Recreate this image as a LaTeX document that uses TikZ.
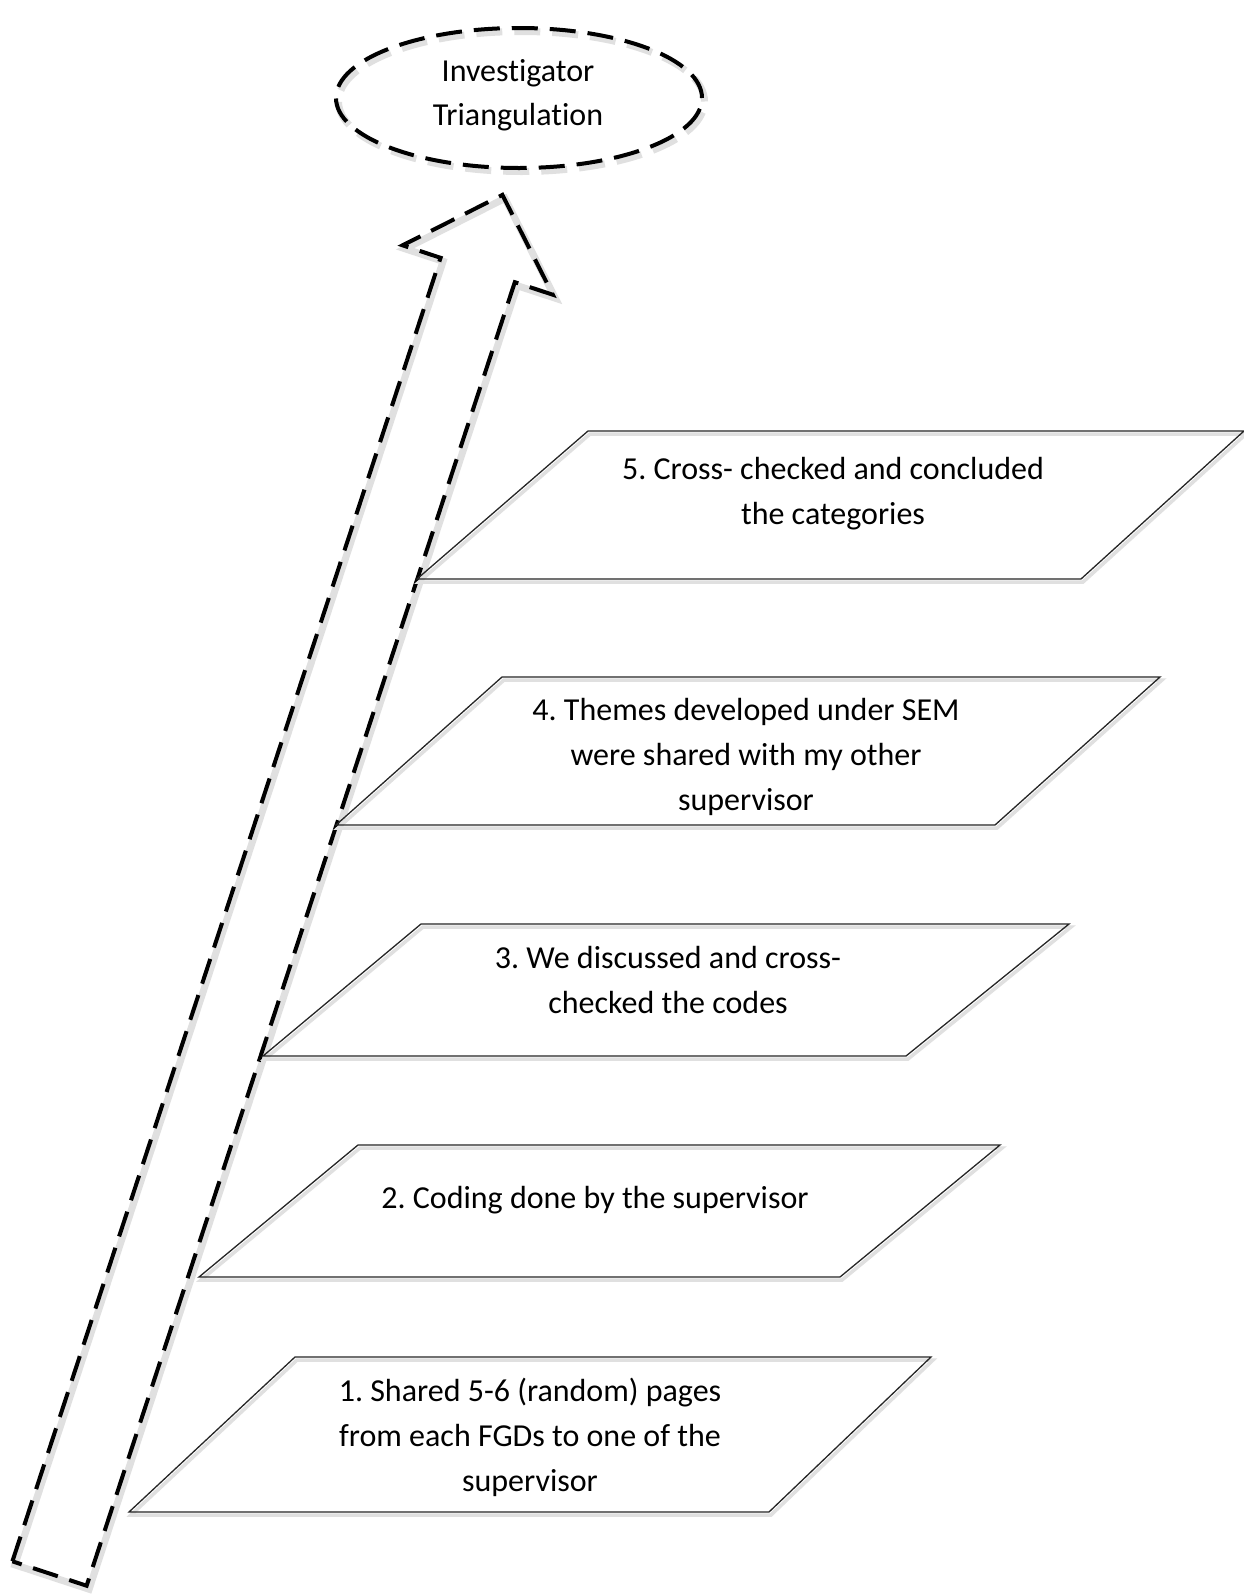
\documentclass[tikz,border=0pt]{standalone}
\usepackage{fontspec}
\setmainfont{Carlito}[Ligatures=NoCommon]
\usetikzlibrary{shapes.geometric}
\begin{document}
\frenchspacing
\begin{tikzpicture}[x=1pt,y=-1pt,
  dashline/.style={draw=black, line width=4pt, dash pattern=on 26pt off 12pt,
    preaction={draw=black!12, line width=7pt, transform canvas={shift={(2.5pt,-3.5pt)}}}},
  stepbox/.style={draw=black!85, line width=1.3pt,
    preaction={draw=black!12, line width=3.5pt, transform canvas={shift={(2pt,-3pt)}}}},
  steptext/.style={align=center, font=\fontsize{32}{45}\selectfont, inner sep=0pt},
]
\useasboundingbox[fill=white] (0,0) rectangle (1244,1596);

% rising block arrow
\coordinate (tl) at (12.4,1561.3);
\coordinate (nl) at (440.6,257.8);
\coordinate (bl) at (402.6,245.3);
\coordinate (tip) at (502.4,194.9);
\coordinate (br) at (552.8,294.7);
\coordinate (nr) at (514.8,282.2);
\coordinate (tr) at (86.6,1585.7);
\draw[dashline] (tl) -- (nl) -- (bl) -- (tip) -- (br) -- (nr) -- (tr) -- cycle;

% goal ellipse
\node[ellipse, dashline, minimum width=366pt, minimum height=140pt] (goal) at (519,98) {};
\node[steptext, font=\fontsize{32}{44}\selectfont] (goaltext) at (518,95) {Investigator\\Triangulation};

% steps
\draw[stepbox] (588,431) coordinate (s5a) -- (1244,431) coordinate (s5b) -- (1081,579) coordinate (s5c) -- (417,579) coordinate (s5d) -- cycle;
\node[steptext] (t5) at (833,494) {5. Cross- checked and concluded\\the categories};

\draw[stepbox] (502,677) coordinate (s4a) -- (1160,677) coordinate (s4b) -- (995,825) coordinate (s4c) -- (336,825) coordinate (s4d) -- cycle;
\node[steptext] (t4) at (746,757) {4. Themes developed under SEM\\were shared with my other\\supervisor};

\draw[stepbox] (421,924) coordinate (s3a) -- (1069,924) coordinate (s3b) -- (906,1056) coordinate (s3c) -- (263,1056) coordinate (s3d) -- cycle;
\node[steptext] (t3) at (668,980) {3. We discussed and cross-\\checked the codes};

\draw[stepbox] (358,1145) coordinate (s2a) -- (1000,1145) coordinate (s2b) -- (840,1277) coordinate (s2c) -- (199,1277) coordinate (s2d) -- cycle;
\node[steptext] (t2) at (595,1200) {2. Coding done by the supervisor};

\draw[stepbox] (295,1357) coordinate (s1a) -- (931,1357) coordinate (s1b) -- (769,1512) coordinate (s1c) -- (129,1512) coordinate (s1d) -- cycle;
\node[steptext] (t1) at (530,1437) {1. Shared 5-6 (random) pages\\from each FGDs to one of the\\supervisor};
\end{tikzpicture}
\end{document}
